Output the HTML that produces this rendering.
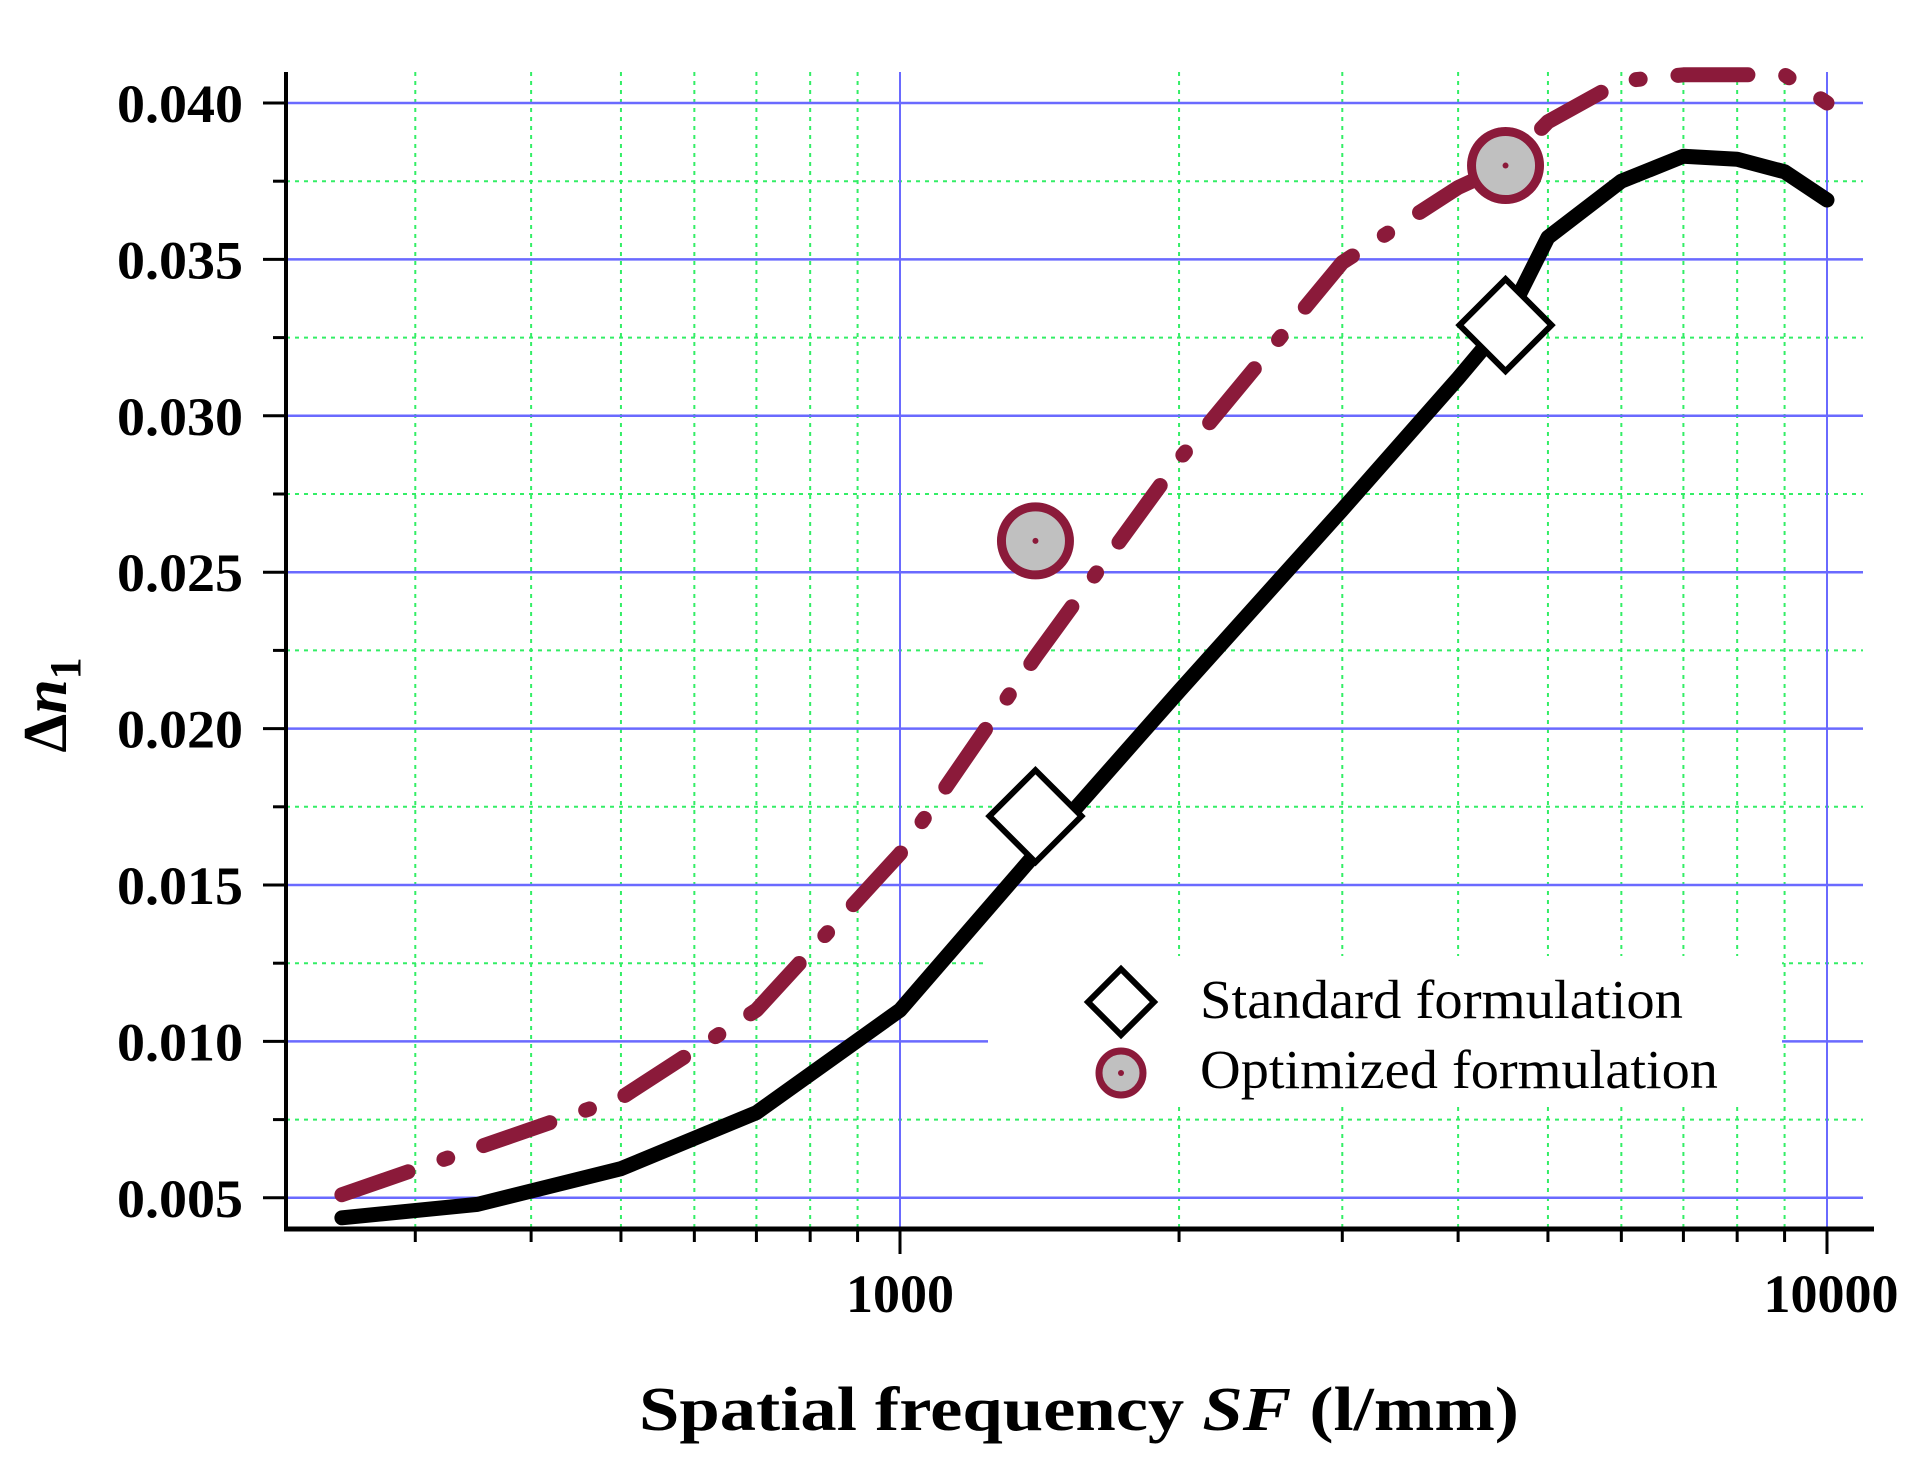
<!DOCTYPE html>
<html><head><meta charset="utf-8"><style>
html,body{margin:0;padding:0;background:#fff;}
svg{display:block;}
</style></head><body>
<svg id="chart" width="1913" height="1459" viewBox="0 0 1913 1459" xmlns="http://www.w3.org/2000/svg">
<g id="grid"></g>
<g id="legend-bg"><rect x="988" y="956" width="794" height="150" fill="#fff"/></g>
<g id="series"></g>
<g id="axes"></g>
<g>
  <g>
    <path d="M1121 969 L1154 1002 L1121 1035 L1088 1002 Z" fill="#fff" stroke="#000" stroke-width="6"/>
    <text x="1200" y="1018" font-family="Liberation Serif, serif" font-size="55" textLength="483" lengthAdjust="spacingAndGlyphs">Standard formulation</text>
  </g>
  <g>
    <circle cx="1121" cy="1073" r="22" fill="#c0c0c0" stroke="#8b1a3a" stroke-width="7"/>
    <circle cx="1121" cy="1073" r="3" fill="#8b1a3a"/>
    <text x="1200" y="1088" font-family="Liberation Serif, serif" font-size="55" textLength="518" lengthAdjust="spacingAndGlyphs">Optimized formulation</text>
  </g>
</g>
<text x="1079" y="1430" text-anchor="middle" font-family="Liberation Serif, serif" font-weight="bold" font-size="62" textLength="880" lengthAdjust="spacingAndGlyphs">Spatial frequency <tspan font-style="italic">SF</tspan> (l/mm)</text>
<text transform="translate(66,705) rotate(-90)" text-anchor="middle" font-family="Liberation Serif, serif" font-weight="bold" font-size="62">Δ<tspan font-style="italic">n</tspan><tspan font-size="44" dy="14">1</tspan></text>
</svg>
<script>
const sfStd = [250,350,500,700,1000,1400,2000,3000,4000,4500,5000,6000,7000,8000,9000,10000];
const dnStd = [0.00436,0.00479,0.00593,0.00772,0.0110,0.0160,0.0212,0.0270,0.0312,0.0330,0.0357,0.0375,0.0383,0.0382,0.0378,0.0369];
const sfOpt = [250,500,700,1000,1400,2000,3000,4000,4500,5000,6000,7000,8000,9000,10000];
const dnOpt = [0.0051,0.00819,0.0110,0.0160,0.0223,0.0286,0.0349,0.0373,0.0380,0.0394,0.0407,0.0409,0.0409,0.0409,0.0400];
const markerSF = [1400,4500];
const markerStd = [0.0172,0.0329];
const markerOpt = [0.0260,0.0380];
const yTicks = [0.005,0.010,0.015,0.020,0.025,0.030,0.035,0.040];
const yTickLabels = ["0.005","0.010","0.015","0.020","0.025","0.030","0.035","0.040"];
const xMajor = [1000,10000];
const xMajorLabels = ["1000","10000"];
const xMinor = [300,400,500,600,700,800,900,2000,3000,4000,5000,6000,7000,8000,9000];

const NS='http://www.w3.org/2000/svg';
const X0=286, X1=1874, YTOP=72, YAX=1229;
function xs(v){return 900+927*Math.log10(v/1000);}
function ys(v){return 103+(0.040-v)/0.005*156.4;}
function mk(tag,attrs,parent){const e=document.createElementNS(NS,tag);for(const k in attrs)e.setAttribute(k,attrs[k]);parent.appendChild(e);return e;}
const grid=document.getElementById('grid'), axes=document.getElementById('axes'), series=document.getElementById('series');

for(let i=0;i<yTicks.length-1;i++){
  const v=yTicks[i]+0.0025;
  const l=mk('line',{x1:X0,x2:1863,y1:ys(v),y2:ys(v),stroke:'#33ee66','stroke-width':2,'stroke-dasharray':'4 5'},grid);
  
  
}
xMinor.forEach(v=>{
  const l=mk('line',{x1:xs(v),x2:xs(v),y1:YTOP,y2:YAX,stroke:'#33ee66','stroke-width':2,'stroke-dasharray':'4 5'},grid);
  
  
});
yTicks.forEach(v=>{
  const l=mk('line',{x1:X0,x2:1863,y1:ys(v),y2:ys(v),stroke:'#6a6aff','stroke-width':2.5},grid);
  
  
});
xMajor.forEach(v=>{
  const l=mk('line',{x1:xs(v),x2:xs(v),y1:YTOP,y2:YAX,stroke:'#6a6aff','stroke-width':2},grid);
  
  
});

function pts(xa,ya){return xa.map((x,i)=>xs(x).toFixed(1)+','+ys(ya[i]).toFixed(1)).join(' ');}
const optLine=mk('polyline',{points:pts(sfOpt,dnOpt),fill:'none',stroke:'#8b1a3a','stroke-width':15,'stroke-linecap':'round','stroke-linejoin':'round','stroke-dasharray':'70 38 4 38'},series);


const stdLine=mk('polyline',{points:pts(sfStd,dnStd),fill:'none',stroke:'#000','stroke-width':15,'stroke-linecap':'round','stroke-linejoin':'round'},series);


markerSF.forEach((s,i)=>{
  const cx=xs(s), cy=ys(markerStd[i]);
  const d=mk('path',{d:`M${cx} ${cy-46} L${cx+46} ${cy} L${cx} ${cy+46} L${cx-46} ${cy} Z`,fill:'#fff',stroke:'#000','stroke-width':6},series);
  
  
  const oy=ys(markerOpt[i]);
  const c=mk('circle',{cx:cx,cy:oy,r:34,fill:'#c0c0c0',stroke:'#8b1a3a','stroke-width':9},series);
  
  
  const dt=mk('circle',{cx:cx,cy:oy,r:3,fill:'#8b1a3a'},series);
  
  
});

const ya=mk('line',{x1:X0,x2:X0,y1:YTOP,y2:YAX+2,stroke:'#000','stroke-width':4},axes);


const xa=mk('line',{x1:X0-2,x2:X1,y1:YAX,y2:YAX,stroke:'#000','stroke-width':5},axes);


yTicks.forEach((v,i)=>{
  const t=mk('line',{x1:X0-23,x2:X0,y1:ys(v),y2:ys(v),stroke:'#000','stroke-width':3},axes);
  
  
  if(i<yTicks.length-1){
    const m=mk('line',{x1:X0-13,x2:X0,y1:ys(v+0.0025),y2:ys(v+0.0025),stroke:'#000','stroke-width':3},axes);
    
    
  }
  const tx=mk('text',{x:243,y:ys(v)+19,'text-anchor':'end','font-family':'Liberation Serif, serif','font-weight':'bold','font-size':54,textLength:126,lengthAdjust:'spacingAndGlyphs'},axes);
  tx.textContent=yTickLabels[i];
  
  
});
xMinor.forEach(v=>{
  const t=mk('line',{x1:xs(v),x2:xs(v),y1:YAX,y2:YAX+13,stroke:'#000','stroke-width':3},axes);
  
  
});
xMajor.forEach((v,i)=>{
  const t=mk('line',{x1:xs(v),x2:xs(v),y1:YAX,y2:YAX+25,stroke:'#000','stroke-width':3},axes);
  
  
  const tx=mk('text',{x:xs(v)+(i==1?4:0),y:1312,'text-anchor':'middle','font-family':'Liberation Serif, serif','font-weight':'bold','font-size':54},axes);
  tx.textContent=xMajorLabels[i];
  
  
});
</script>
</body></html>
